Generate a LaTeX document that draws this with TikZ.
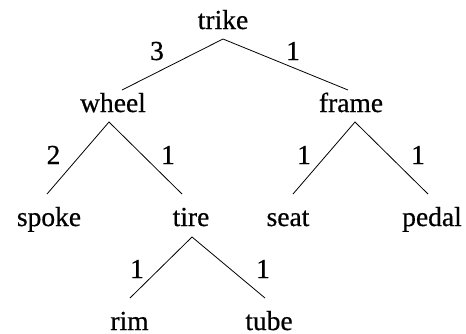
\documentclass[tikz,border=0pt]{standalone}
\usepackage{fontspec}
\setmainfont{Liberation Serif}[FakeBold=0.6]
\begin{document}
\begin{tikzpicture}[x=1pt,y=-1pt,
  lbl/.style={anchor=base,inner sep=0pt,font=\fontsize{27.5}{30}\selectfont},
  wt/.style={anchor=base,inner sep=0pt,font=\fontsize{27.5}{30}\selectfont},
  edge/.style={line width=0.8pt,black}]
\useasboundingbox (0,0) rectangle (466,333);
% nodes
\node[lbl] (trike) at (223,29) {trike};
\node[lbl] (wheel) at (113,112) {wheel};
\node[lbl] (frame) at (351,112) {frame};
\node[lbl] (spoke) at (49,226) {spoke};
\node[lbl] (tire) at (191,226) {tire};
\node[lbl] (seat) at (288,226) {seat};
\node[lbl] (pedal) at (432,226) {pedal};
\node[lbl] (rim) at (129.5,330) {rim};
\node[lbl] (tube) at (269,330) {tube};
% connector end points
\coordinate (trikeB) at (223,39);
\coordinate (wheelT) at (122,90);
\coordinate (frameT) at (348,90);
\coordinate (wheelB) at (109,122);
\coordinate (frameB) at (355,122);
\coordinate (spokeT) at (47,194);
\coordinate (tireT) at (182,194);
\coordinate (seatT) at (293,194);
\coordinate (pedalT) at (428,194);
\coordinate (tireB) at (192,237);
\coordinate (rimT) at (130,298);
\coordinate (tubeT) at (265,298);
% connectors
\draw[edge] (wheelT) -- (trikeB) -- (frameT);
\draw[edge] (spokeT) -- (wheelB) -- (tireT);
\draw[edge] (seatT) -- (frameB) -- (pedalT);
\draw[edge] (rimT) -- (tireB) -- (tubeT);
% weights
\node[wt] (w1) at (157,60) {3};
\node[wt] (w2) at (293,60) {1};
\node[wt] (w3) at (53.5,164) {2};
\node[wt] (w4) at (168,164) {1};
\node[wt] (w5) at (304,164) {1};
\node[wt] (w6) at (418,164) {1};
\node[wt] (w7) at (137,278) {1};
\node[wt] (w8) at (263,278) {1};
\end{tikzpicture}
\end{document}
